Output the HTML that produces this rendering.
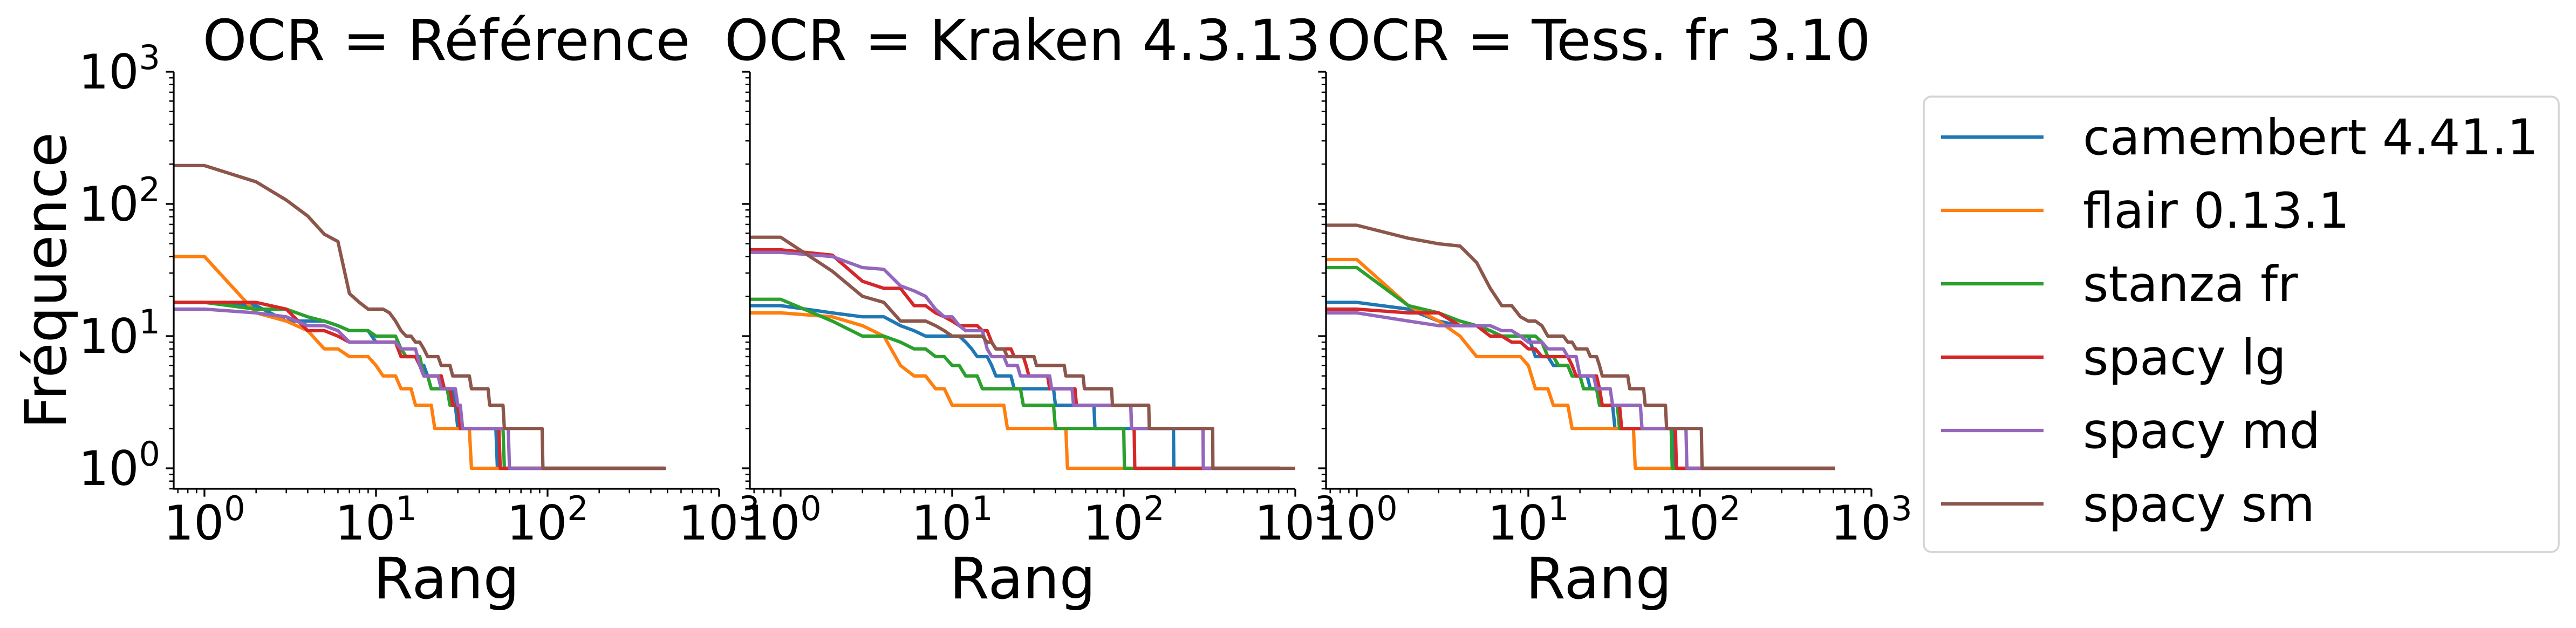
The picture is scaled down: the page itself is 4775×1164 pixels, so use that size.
<!DOCTYPE html>
<html><head><meta charset="utf-8"><style>
html,body{margin:0;padding:0;background:#fff;}
svg{display:block;font-family:"DejaVu Sans","Liberation Sans",sans-serif;}
</style></head><body>
<svg id="chart" width="4775" height="1164" viewBox="0 0 4775 1164" xmlns="http://www.w3.org/2000/svg">
<defs id="defs"></defs>
<g id="root"></g>
</svg>
<script>
// Panel titles and series names
const panelTitles = ["OCR = Référence", "OCR = Kraken 4.3.13", "OCR = Tess. fr 3.10"];
const seriesNames = ["camembert 4.41.1", "flair 0.13.1", "stanza fr", "spacy lg", "spacy md", "spacy sm"];
const seriesColors = ["#1f77b4", "#ff7f0e", "#2ca02c", "#d62728", "#9467bd", "#8c564b"];
const xTickExps = [0, 1, 2, 3];
const yTickExps = [0, 1, 2, 3];

// Panel 1 (Référence): run-length data: frequency and last rank of that frequency
const ref_camembert_freq = [18,17,13,12,11,9,7,6,5,4,3,2,1];
const ref_camembert_end  = [1,2,5,6,9,13,17,19,24,28,29,50,470];
const ref_flair_freq = [40,15,13,11,8,7,6,5,4,3,2,1];
const ref_flair_end  = [1,2,3,4,6,9,10,13,16,21,35,470];
const ref_stanza_freq = [18,16,14,13,12,11,10,8,7,5,4,3,2,1];
const ref_stanza_end  = [1,3,4,5,6,9,13,14,18,20,26,30,55,470];
const ref_lg_freq = [18,16,11,10,9,7,6,5,4,3,2,1];
const ref_lg_end  = [2,3,5,6,13,17,18,24,27,30,52,470];
const ref_md_freq = [16,15,14,12,11,9,8,6,5,4,3,2,1];
const ref_md_end  = [1,2,3,5,6,13,17,18,23,29,31,59,470];
const ref_sm_freq = [195,147,107,81,59,52,21,18,16,15,13,11,10,9,8,7,6,5,4,3,2,1];
const ref_sm_end  = [1,2,3,4,5,6,7,8,11,12,13,14,16,18,19,23,27,35,45,55,93,480];

// Panel 2 (Kraken)
const kra_camembert_freq = [17,15,14,12,11,10,9,8,7,6,5,4,3,2,1];
const kra_camembert_end  = [1,2,4,5,6,11,12,13,16,17,22,39,67,195,800];
const kra_flair_freq = [15,14,12,10,6,5,4,3,2,1];
const kra_flair_end  = [1,2,3,4,5,7,9,20,46,800];
const kra_stanza_freq = [19,13,10,9,8,7,6,5,4,3,2,1];
const kra_stanza_end  = [1,2,4,5,7,9,11,14,25,39,100,800];
const kra_lg_freq = [45,41,26,23,17,15,14,13,12,11,9,8,7,6,5,4,3,2,1];
const kra_lg_end  = [1,2,3,5,7,8,9,10,14,16,17,22,26,27,36,52,110,115,800];
const kra_md_freq = [43,40,33,32,24,22,20,16,14,12,11,8,7,6,5,4,3,2,1];
const kra_md_end  = [1,2,3,4,5,6,7,8,10,11,15,16,20,24,37,50,110,290,800];
const kra_sm_freq = [56,31,20,18,13,12,11,10,9,8,7,6,5,4,3,2,1];
const kra_sm_end  = [1,2,3,4,7,8,9,15,17,20,30,45,58,85,140,330,1000];

// Panel 3 (Tesseract)
const tes_camembert_freq = [18,16,13,12,11,10,7,6,5,4,3,2,1];
const tes_camembert_end  = [1,2,3,5,6,10,13,17,22,25,31,70,600];
const tes_flair_freq = [38,17,13,10,7,6,4,3,2,1];
const tes_flair_end  = [1,2,3,4,9,10,13,17,41,600];
const tes_stanza_freq = [33,17,15,13,12,11,10,9,7,6,5,4,3,2,1];
const tes_stanza_end  = [1,2,3,4,5,6,11,12,14,17,20,25,33,68,600];
const tes_lg_freq = [16,15,12,10,9,8,7,6,5,4,3,2,1];
const tes_lg_end  = [1,3,5,7,9,11,17,18,25,26,34,72,600];
const tes_md_freq = [15,13,12,11,10,9,8,7,5,4,3,2,1];
const tes_md_end  = [1,2,6,8,9,12,16,19,24,30,45,83,600];
const tes_sm_freq = [69,55,50,48,36,23,17,14,13,12,10,9,8,7,6,5,4,3,2,1];
const tes_sm_end  = [1,2,3,4,5,6,8,9,11,12,16,18,22,25,26,38,47,63,102,600];

const panelSeries = [
  [[ref_camembert_freq,ref_camembert_end],[ref_flair_freq,ref_flair_end],[ref_stanza_freq,ref_stanza_end],[ref_lg_freq,ref_lg_end],[ref_md_freq,ref_md_end],[ref_sm_freq,ref_sm_end]],
  [[kra_camembert_freq,kra_camembert_end],[kra_flair_freq,kra_flair_end],[kra_stanza_freq,kra_stanza_end],[kra_lg_freq,kra_lg_end],[kra_md_freq,kra_md_end],[kra_sm_freq,kra_sm_end]],
  [[tes_camembert_freq,tes_camembert_end],[tes_flair_freq,tes_flair_end],[tes_stanza_freq,tes_stanza_end],[tes_lg_freq,tes_lg_end],[tes_md_freq,tes_md_end],[tes_sm_freq,tes_sm_end]]
];

const NS = "http://www.w3.org/2000/svg";
const root = document.getElementById("root");
const defs = document.getElementById("defs");
function mk(tag, attrs, parent) {
  const e = document.createElementNS(NS, tag);
  for (const k in attrs) e.setAttribute(k, attrs[k]);
  (parent || root).appendChild(e);
  return e;
}
const TOP = 133, BOTTOM = 906, PW = 1011;
const XMIN_LOG = Math.log10(0.662);
const LW = 6.2;
function panelLeft(p) { return 322 + p * 1068; }
function xScale(p, r) { return panelLeft(p) + (Math.log10(r) - XMIN_LOG) * 318; }
function yScale(f) { return 868 - 245 * Math.log10(f); }

function supLabel(parent, x, y, exp, anchor) {
  const t = mk("text", {x: x, y: y, "font-size": 88, fill: "#000", "text-anchor": anchor}, parent);
  const a = mk("tspan", {}, t); a.textContent = "10";
  const b = mk("tspan", {dy: -36, "font-size": 62}, t); b.textContent = String(exp);
  return t;
}

for (let p = 0; p < 3; p++) {
  const L = panelLeft(p);
  const g = mk("g", {});
  
  
  const cp = mk("clipPath", {id: "clip" + p}, defs);
  mk("rect", {x: L, y: TOP, width: PW, height: BOTTOM - TOP}, cp);

  const sg = mk("g", {"clip-path": "url(#clip" + p + ")"}, g);
  panelSeries[p].forEach((s, si) => {
    const freqs = s[0], ends = s[1];
    const pts = [];
    pts.push([L - 5, yScale(freqs[0])]);
    let r = 1;
    for (let k = 0; k < freqs.length; k++) {
      for (; r <= ends[k]; r++) pts.push([xScale(p, r), yScale(freqs[k])]);
    }
    const pl = mk("polyline", {points: pts.map(q => q[0].toFixed(1) + "," + q[1].toFixed(1)).join(" "),
      fill: "none", stroke: seriesColors[si], "stroke-width": LW, "stroke-linejoin": "round", "stroke-linecap": "square"}, sg);
    
    
  });

  const ax = mk("path", {d: `M${L},${TOP} L${L},${BOTTOM} L${L + PW},${BOTTOM}`, fill: "none", stroke: "#000", "stroke-width": 3.3}, g);
  
  

  for (let e = -1; e <= 2; e++) {
    for (let m = 1; m <= 9; m++) {
      const v = m * Math.pow(10, e);
      if (v < 0.662 || v > 1000.01) continue;
      const x = xScale(p, v);
      mk("line", {x1: x, y1: BOTTOM, x2: x, y2: BOTTOM + (m === 1 ? 14.6 : 8.3), stroke: "#000", "stroke-width": m === 1 ? 3.3 : 2.5}, g);
    }
  }
  { const x = xScale(p, 1000); mk("line", {x1: x, y1: BOTTOM, x2: x, y2: BOTTOM + 14.6, stroke: "#000", "stroke-width": 3.3}, g); }
  xTickExps.forEach(e => {
    const t = supLabel(g, xScale(p, Math.pow(10, e)), 1000, e, "middle");
    
    
  });
  for (let e = -1; e <= 2; e++) {
    for (let m = 1; m <= 9; m++) {
      const v = m * Math.pow(10, e);
      if (v < 0.70) continue;
      const y = yScale(v);
      mk("line", {x1: L, y1: y, x2: L - (m === 1 ? 14.6 : 8.3), y2: y, stroke: "#000", "stroke-width": m === 1 ? 3.3 : 2.5}, g);
    }
  }
  mk("line", {x1: L, y1: yScale(1000), x2: L - 14.6, y2: yScale(1000), stroke: "#000", "stroke-width": 3.3}, g);
  if (p === 0) {
    yTickExps.forEach(e => {
      const t = supLabel(g, 297, yScale(Math.pow(10, e)) + 31, e, "end");
      
      
    });
  }
  const tt = mk("text", {x: L + PW / 2, y: 111, "font-size": 104, "text-anchor": "middle", fill: "#000"}, g);
  tt.textContent = panelTitles[p];
  
  
  const xl = mk("text", {x: L + PW / 2, y: 1109, "font-size": 106, "text-anchor": "middle", fill: "#000"}, g);
  xl.textContent = "Rang";
  
  
}
const yl = mk("text", {x: 0, y: 0, "font-size": 106, "text-anchor": "middle", fill: "#000", transform: "translate(122,520) rotate(-90)"});
yl.textContent = "Fréquence";



const lg = mk("g", {});


mk("rect", {x: 3566, y: 179, width: 1177, height: 844, rx: 14, ry: 14, fill: "#fff", stroke: "#d4d4d4", "stroke-width": 3.5}, lg);
seriesNames.forEach((n, i) => {
  const y = 254 + 136 * i;
  const e = mk("g", {}, lg);
  
  
  mk("line", {x1: 3598, y1: y, x2: 3788, y2: y, stroke: seriesColors[i], "stroke-width": LW}, e);
  const t = mk("text", {x: 3861, y: y + 32, "font-size": 91, fill: "#000"}, e);
  t.textContent = n;
});
</script>
</body></html>
